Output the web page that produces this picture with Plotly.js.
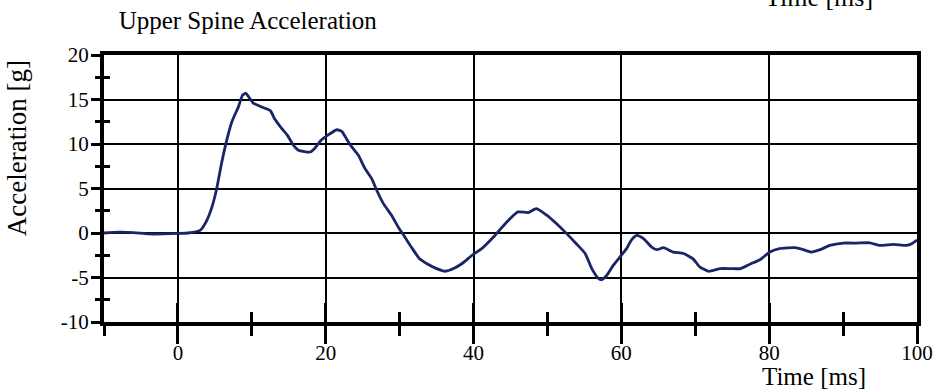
<!DOCTYPE html>
<html>
<head>
<meta charset="utf-8">
<script src="https://cdn.plot.ly/plotly-3.0.1.min.js"></script>
<style>html,body{margin:0;padding:0;background:#fff}#chart{width:939px;height:392px}</style>
</head>
<body>
<div id="chart"></div>
<script>
// Time [ms]
const timeMs = [-10, -8, -6, -4, -2, 0, 1.4, 3.0, 3.9, 4.6, 5.2, 5.9, 6.6, 7.3, 8.2, 8.75, 9.2, 9.7, 10.2, 11.5, 12.5, 13.1, 13.9, 14.8, 15.6, 16.3, 17.9, 18.5, 19.4, 20.3, 21.5, 22.2, 22.8, 23.5, 24.4, 25.3, 26.2, 26.9, 27.8, 28.9, 29.8, 30.7, 31.6, 32.7, 33.7, 35.0, 36.2, 37.3, 38.5, 39.8, 41.1, 42.7, 44.5, 46.0, 47.4, 48.5, 49.9, 51.2, 52.6, 53.9, 55.1, 56.0, 56.9, 57.3, 58.0, 58.9, 59.8, 60.7, 61.4, 62.1, 63.0, 64.1, 64.8, 65.7, 67.0, 68.4, 69.7, 70.6, 71.8, 73.4, 74.7, 76.1, 77.4, 78.8, 80.1, 81.4, 83.5, 84.6, 85.7, 86.9, 88.2, 90.0, 91.8, 93.6, 95.0, 96.8, 98.6, 99.3, 100];
// Acceleration [g]
const accelG = [0, 0.1, 0.05, -0.1, -0.1, -0.05, 0, 0.3, 1.4, 2.9, 4.8, 7.8, 10.4, 12.5, 14.2, 15.5, 15.7, 15.15, 14.6, 14.1, 13.75, 12.8, 11.9, 11.0, 9.9, 9.3, 9.1, 9.5, 10.45, 11.0, 11.6, 11.4, 10.6, 9.7, 8.76, 7.26, 6.13, 4.8, 3.3, 2.0, 0.68, -0.45, -1.6, -2.9, -3.45, -4.0, -4.3, -4.0, -3.4, -2.5, -1.76, -0.45, 1.24, 2.37, 2.3, 2.75, 2.0, 1.06, -0.07, -1.2, -2.3, -4.0, -5.1, -5.25, -4.77, -3.64, -2.7, -1.76, -0.74, -0.26, -0.63, -1.58, -1.87, -1.65, -2.14, -2.3, -2.9, -3.8, -4.3, -4.0, -4.0, -4.0, -3.5, -2.97, -2.14, -1.76, -1.65, -1.87, -2.14, -1.87, -1.4, -1.13, -1.13, -1.1, -1.4, -1.27, -1.4, -1.2, -0.8];

const xTickVals = [0, 20, 40, 60, 80, 100];
const xTickText = ["0", "20", "40", "60", "80", "100"];
const yTickVals = [-10, -5, 0, 5, 10, 15, 20];
const yTickText = ["-10", "-5", "0", "5", "10", "15", "20"];

const chartTitle = "Upper Spine Acceleration";
const xTitle = "Time [ms]";
const yTitle = "Acceleration [g]";
const nextChartTitle = "Lower Spine Acceleration";

const serif = "'Liberation Serif', 'Times New Roman', serif";

const trace = {
  x: timeMs, y: accelG, type: "scatter", mode: "lines",
  line: {color: "#1a2568", width: 2.8, shape: "spline", smoothing: 0.5},
  hoverinfo: "skip", showlegend: false
};
const dummy = {x: [timeMs[0]], y: [accelG[0]], xaxis: "x2", yaxis: "y2", mode: "markers",
  marker: {opacity: 0}, hoverinfo: "skip", showlegend: false};

const layout = {
  width: 939, height: 392,
  margin: {l: 104, r: 22, t: 55, b: 70},
  paper_bgcolor: "#fff", plot_bgcolor: "#fff",
  font: {family: serif, color: "#000", size: 20},
  title: {text: chartTitle, font: {family: serif, size: 25, color: "#000"},
    xref: "paper", x: 0.018, xanchor: "left", yref: "container", y: 0.948, yanchor: "middle"},
  xaxis: {
    range: [-10, 100], tickmode: "array", tickvals: xTickVals, ticktext: xTickText,
    ticks: "outside", ticklen: 18, tickwidth: 3, tickcolor: "#000", ticklabelstandoff: -9,
    showline: true, linewidth: 4, linecolor: "#000", mirror: true,
    showgrid: true, gridcolor: "#000", gridwidth: 2, zeroline: false,
    minor: {dtick: 10, tick0: 0, ticks: "outside", ticklen: 10, tickwidth: 3, tickcolor: "#000", showgrid: false},
    tickfont: {family: serif, size: 21, color: "#000"}, fixedrange: true
  },
  xaxis2: {
    overlaying: "x", matches: "x", range: [-10, 100], tick0: 0, dtick: 20, ticks: "inside", ticklen: 19, tickwidth: 3, tickcolor: "#000",
    showticklabels: false, showgrid: false, showline: false, zeroline: false,
    minor: {dtick: 10, tick0: 0, ticks: "inside", ticklen: 10, tickwidth: 3, tickcolor: "#000", showgrid: false}
  },
  yaxis: {
    range: [-10, 20], tickmode: "array", tickvals: yTickVals, ticktext: yTickText,
    ticks: "outside", ticklen: 9, tickwidth: 3, tickcolor: "#000", ticklabelstandoff: -2,
    showline: true, linewidth: 4, linecolor: "#000", mirror: true,
    showgrid: true, gridcolor: "#000", gridwidth: 2, zeroline: false,
    minor: {dtick: 2.5, tick0: 0, ticks: "outside", ticklen: 5, tickwidth: 3, tickcolor: "#000", showgrid: false},
    tickfont: {family: serif, size: 21, color: "#000"}, fixedrange: true
  },
  yaxis2: {
    overlaying: "y", matches: "y", range: [-10, 20], tick0: 0, dtick: 5, ticks: "",
    showticklabels: false, showgrid: false, showline: false, zeroline: false,
    minor: {dtick: 2.5, tick0: 0, ticks: "inside", ticklen: 6, tickwidth: 3, tickcolor: "#000", showgrid: false}
  },
  annotations: [
    {text: xTitle, xref: "paper", yref: "paper", x: 0.807, y: -0.203, xanchor: "left", yanchor: "middle",
      showarrow: false, font: {family: serif, size: 25, color: "#000"}},
    {text: yTitle, xref: "paper", yref: "paper", x: -0.106, y: 0.65, xanchor: "center", yanchor: "middle",
      textangle: -90, showarrow: false, font: {family: serif, size: 27, color: "#000"}},
    {text: xTitle, xref: "paper", yref: "paper", x: 0.81, y: 1.215, xanchor: "left", yanchor: "middle",
      showarrow: false, font: {family: serif, size: 26, color: "#000"}},
    {text: nextChartTitle, xref: "paper", yref: "paper", x: -0.011, y: -0.3, xanchor: "left", yanchor: "middle",
      showarrow: false, font: {family: serif, size: 25, color: "#000"}}
  ]
};

Plotly.newPlot("chart", [trace, dummy], layout, {staticPlot: true, displayModeBar: false});
</script>
</body>
</html>
